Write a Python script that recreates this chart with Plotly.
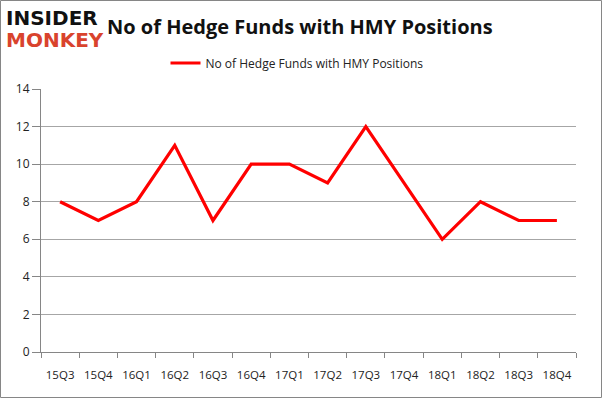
import plotly.graph_objects as go

quarters = ["15Q3", "15Q4", "16Q1", "16Q2", "16Q3", "16Q4", "17Q1", "17Q2",
            "17Q3", "17Q4", "18Q1", "18Q2", "18Q3", "18Q4"]
funds = [8, 7, 8, 11, 7, 10, 10, 9, 12, 9, 6, 8, 7, 7]
y_ticks = [0, 2, 4, 6, 8, 10, 12, 14]
series_name = "No of Hedge Funds with HMY Positions"
title_text = "No of Hedge Funds with HMY Positions"

W, H = 602, 398
L, R, T, B = 41, 26, 89, 46
pw, ph = W - L - R, H - T - B

def px(x):
    return (x - L) / pw

def py(y):
    return (H - B - y) / ph

fig = go.Figure()
fig.add_trace(go.Scatter(
    x=quarters, y=funds, mode="lines", name=series_name,
    line=dict(color="#ff0000", width=3.2),
))

fig.update_layout(
    width=W, height=H,
    margin=dict(l=L, r=R, t=T, b=B, autoexpand=False),
    paper_bgcolor="white", plot_bgcolor="white",
    font=dict(family="Open Sans, Lato, sans-serif", size=11, color="#222222"),
    showlegend=True,
    legend=dict(xref="container", yref="container",
                x=297 / W, y=1 - 63 / H, xanchor="center", yanchor="middle",
                orientation="h", font=dict(size=12, color="#222222"),
                bgcolor="rgba(0,0,0,0)"),
    xaxis=dict(type="category", tickson="boundaries", ticks="outside",
               ticklen=5, tickcolor="#868686", showline=True,
               linecolor="#868686", linewidth=1, showgrid=False,
               range=[-0.5, len(quarters) - 0.5], ticklabelstandoff=12,
               tickfont=dict(size=11.5, color="#222222")),
    yaxis=dict(range=[0, 14], tickvals=y_ticks, ticks="outside", ticklen=8,
               tickcolor="#868686", showline=True, linecolor="#868686",
               linewidth=1, showgrid=True, gridcolor="#a6a6a6", gridwidth=1,
               zeroline=False,
               tickfont=dict(size=12, color="#222222")),
    annotations=[
        dict(text="<b>" + title_text + "</b>", xref="paper", yref="paper",
             x=px(300), y=py(27), xanchor="center", yanchor="middle",
             showarrow=False, font=dict(size=20, color="#111111",
                                        family="Open Sans, sans-serif")),
        dict(text="<b>INSIDER</b>", xref="paper", yref="paper",
             x=px(4), y=py(18), xanchor="left", yanchor="middle",
             showarrow=False, font=dict(size=20, color="#111111",
                                        family="DejaVu Sans")),
        dict(text="<b>MONKEY</b>", xref="paper", yref="paper",
             x=px(4), y=py(40), xanchor="left", yanchor="middle",
             showarrow=False, font=dict(size=20, color="#d9432d",
                                        family="DejaVu Sans")),
    ],
    shapes=[dict(type="rect", xref="paper", yref="paper",
                 x0=px(0.5), x1=px(601.5), y0=py(397.5), y1=py(0.5),
                 line=dict(color="#868686", width=1), layer="below")],
)

fig.write_html("out.html", config={"displayModeBar": False},
               post_script="document.body.style.margin='0px';"
                           "document.body.style.overflow='hidden';")
